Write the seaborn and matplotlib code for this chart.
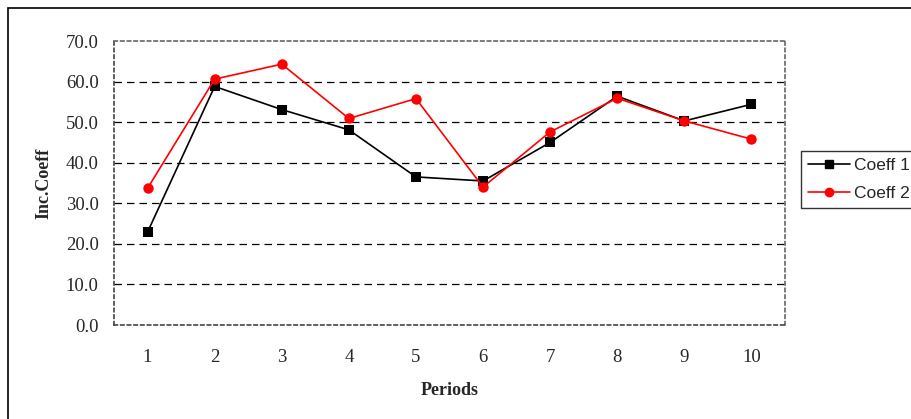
import matplotlib
matplotlib.use("Agg")
import matplotlib.pyplot as plt
import seaborn as sns
import pandas as pd
from matplotlib.patches import Rectangle
from matplotlib.lines import Line2D

periods = [1, 2, 3, 4, 5, 6, 7, 8, 9, 10]
coeff1 = [22.9, 58.8, 53.1, 48.1, 36.5, 35.5, 45.0, 56.4, 50.3, 54.4]
coeff2 = [33.7, 60.6, 64.3, 50.9, 55.8, 34.0, 47.6, 55.9, 50.3, 45.8]
series_names = ["Coeff 1", "Coeff 2"]
yticks = [0, 10, 20, 30, 40, 50, 60, 70]

df = pd.DataFrame({
    "Periods": periods * 2,
    "value": coeff1 + coeff2,
    "series": [series_names[0]] * len(periods) + [series_names[1]] * len(periods),
})

sns.set_style("white")
plt.rcParams["font.family"] = ["Liberation Serif", "DejaVu Serif"]

fig = plt.figure(figsize=(9.11, 4.19), dpi=100)
ax = fig.add_axes([114 / 911, 1 - 325 / 419, (785 - 114) / 911, (325 - 41) / 419])

sns.lineplot(data=df, x="Periods", y="value", hue="series", style="series",
             palette={"Coeff 1": "black", "Coeff 2": "#ff0000"},
             markers={"Coeff 1": "s", "Coeff 2": "o"},
             dashes=False, linewidth=1.2, markersize=7.5, markeredgewidth=0,
             ax=ax, legend=False)

ax.set_xlim(0.5, 10.5)
ax.set_ylim(0, 70)
ax.set_yticks(yticks)
ax.set_yticklabels([f"{v:.1f}" for v in yticks], fontsize=13.5)
ax.set_xticks(periods)
ax.set_xticklabels([str(p) for p in periods], fontsize=13.5)
ax.set_xticks([p + 0.5 for p in [0] + periods], minor=True)
ax.tick_params(axis="x", which="major", length=0, pad=17)
ax.tick_params(axis="x", which="minor", length=5, width=1, color="#555555", direction="out")
ax.tick_params(axis="y", which="major", length=8, width=1, color="#333333", direction="inout", pad=7)

for v in yticks[1:-1]:
    ax.axhline(v, color="black", linestyle=(0, (6, 4)), linewidth=0.9, zorder=0)

for side in ["top", "right", "bottom", "left"]:
    ax.spines[side].set_visible(True)
    ax.spines[side].set_color("#666666")
    ax.spines[side].set_linewidth(1.2)
    ax.spines[side].set_linestyle((0, (2, 2)))
ax.spines["left"].set_color("#444444")
ax.spines["bottom"].set_color("#444444")

ax.set_xlabel("Periods", fontsize=13, fontweight="bold", labelpad=12)
ax.set_ylabel("Inc.Coeff", fontsize=13, fontweight="bold", labelpad=10)

# outer chart border (cropped at right/bottom)
fig.patches.append(Rectangle((8 / 911, -0.1), 1.2, 1 - 8 / 419 + 0.1,
                             transform=fig.transFigure, fill=False,
                             edgecolor="black", linewidth=1.2))

handles = [
    Line2D([], [], color="black", marker="s", markersize=6, linewidth=1.2),
    Line2D([], [], color="#ff0000", marker="o", markersize=6, linewidth=1.2),
]
leg = fig.legend(handles, series_names, loc="upper left",
                 bbox_to_anchor=(801 / 911, 1 - 151 / 419),
                 frameon=True, fancybox=False, edgecolor="black",
                 prop={"family": "Liberation Sans", "size": 12.5},
                 handlelength=2.4, handletextpad=0.25, borderpad=0.4,
                 labelspacing=0.75, borderaxespad=0)
leg.get_frame().set_linewidth(1.0)

fig.savefig("out.png", dpi=100)
